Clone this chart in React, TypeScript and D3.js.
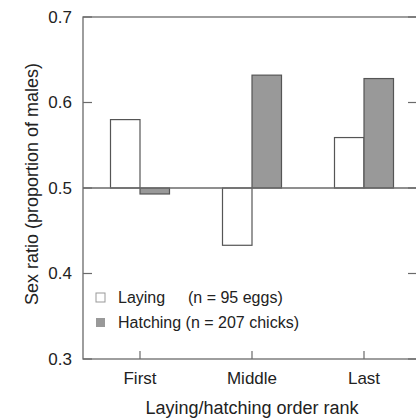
import React from 'react';
import * as d3 from 'd3';

const ranks = ['First', 'Middle', 'Last'];
const laying = [0.58, 0.433, 0.559];
const hatching = [0.493, 0.632, 0.628];
const yTicks = [0.3, 0.4, 0.5, 0.6, 0.7];
const legendLabels = ['Laying', 'Hatching (n = 207 chicks)'];

const W = 416;
const H = 419;
const FONT = 'Liberation Sans, Arial, sans-serif';

export default function App() {
  const left = 83, right = 418, top = 17, bottom = 359;

  const x = d3.scalePoint<string>()
    .domain(ranks)
    .range([140, 364]);

  const y = d3.scaleLinear()
    .domain([0.3, 0.7])
    .range([bottom, top]);

  const barW = 29.5;
  const base = y(0.5);
  const axisCol = '#6a6a6a';
  const textCol = '#222';

  const bars: { x: number; v: number; fill: string }[] = [];
  ranks.forEach((r, i) => {
    bars.push({ x: x(r)! - barW, v: laying[i], fill: '#fff' });
    bars.push({ x: x(r)!, v: hatching[i], fill: '#999' });
  });

  return (
    <svg width={W} height={H} style={{ position: 'absolute', left: 0, top: 0 }} fontFamily={FONT}>
      <rect width={W} height={H} fill="#fff" />
      {bars.map((b, i) => (
        <rect
          key={i}
          x={b.x}
          y={Math.min(y(b.v), base)}
          width={barW}
          height={Math.abs(y(b.v) - base)}
          fill={b.fill}
          stroke="#555"
          strokeWidth={1.2}
        />
      ))}
      {/* reference line at 0.5 */}
      <line x1={left} x2={right} y1={base} y2={base} stroke={axisCol} strokeWidth={1.3} />
      {/* frame */}
      <rect x={left} y={top} width={right - left} height={bottom - top} fill="none" stroke={axisCol} strokeWidth={1.3} />
      {yTicks.map(t => (
        <g key={t}>
          <line x1={left} x2={left + 9} y1={y(t)} y2={y(t)} stroke={axisCol} strokeWidth={1.2} />
          <line x1={right - 10} x2={right} y1={y(t)} y2={y(t)} stroke={axisCol} strokeWidth={1.2} />
          <text x={left - 11} y={y(t)} dy="0.35em" textAnchor="end" fontSize={17} fill={textCol}>
            {d3.format('.1f')(t)}
          </text>
        </g>
      ))}
      {ranks.map(r => (
        <g key={r}>
          <line x1={x(r)} x2={x(r)} y1={bottom} y2={bottom - 8} stroke={axisCol} strokeWidth={1.2} />
          <text x={x(r)} y={384} textAnchor="middle" fontSize={17} fill={textCol}>{r}</text>
        </g>
      ))}
      <text x={252} y={414} textAnchor="middle" fontSize={18} fill={textCol}>Laying/hatching order rank</text>
      <text
        transform={`translate(38,${184}) rotate(-90)`}
        textAnchor="middle"
        fontSize={18}
        fill={textCol}
      >
        Sex ratio (proportion of males)
      </text>
      {/* legend */}
      <rect x={96} y={293} width={9} height={9} fill="#fff" stroke="#999" strokeWidth={1} />
      <text x={118} y={297} dy="0.35em" fontSize={16} fill={textCol}>{legendLabels[0]}</text>
      <text x={188} y={297} dy="0.35em" fontSize={16} fill={textCol}>(n = 95 eggs)</text>
      <rect x={96} y={318} width={9} height={9} fill="#999" />
      <text x={118} y={322} dy="0.35em" fontSize={16} fill={textCol}>{legendLabels[1]}</text>
    </svg>
  );
}
